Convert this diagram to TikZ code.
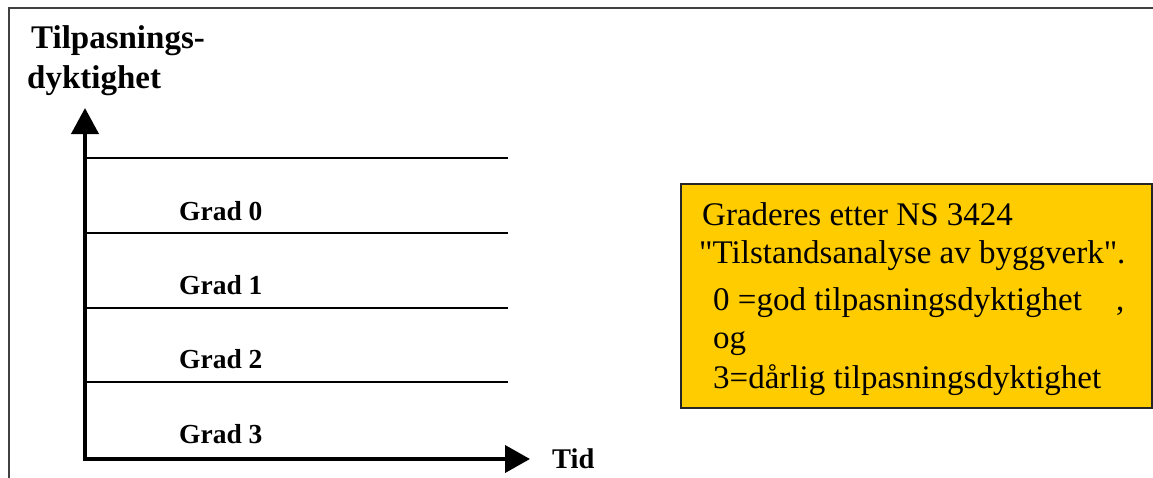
\documentclass[tikz,border=0pt]{standalone}
\usepackage{fontspec}
\setmainfont{Liberation Serif}[Ligatures=TeXOff]
\usetikzlibrary{arrows.meta}
\definecolor{boxyellow}{HTML}{FFCC00}
\definecolor{framegray}{HTML}{404040}
\tikzset{
  gradlabel/.style={anchor=base west,inner sep=0pt,font=\fontsize{27.5}{30}\selectfont\bfseries},
  boxtext/.style={anchor=base west,inner sep=0pt,font=\fontsize{33}{36}\selectfont},
  level/.style={line width=1.8pt},
  axis/.style={line width=4pt,{Triangle[length=26pt,width=27pt]}-{Triangle[length=25pt,width=27pt]}},
  infobox/.style={draw=black!85,line width=1.8pt,fill=boxyellow}
}
\begin{document}
\begin{tikzpicture}[x=1pt,y=-1pt]
\useasboundingbox (0,0) rectangle (1153,477);
% frame
\draw[framegray,line width=1.6pt] (9,478) -- (9,8) -- (1154,8);
% title
\node[anchor=base west,inner sep=0pt,font=\fontsize{33}{40}\selectfont\bfseries] (t1) at (31,48) {Tilpasnings-};
\node[anchor=base west,inner sep=0pt,font=\fontsize{33}{40}\selectfont\bfseries] (t2) at (27,88) {dyktighet};
% axes
\coordinate (ytip) at (85,108);
\coordinate (origin) at (85,459);
\coordinate (xtip) at (530,459);
\draw[axis] (ytip) -- (origin) -- (xtip);
\node[anchor=base west,inner sep=0pt,font=\fontsize{28.5}{32}\selectfont\bfseries] (tid) at (552,468) {Tid};
% level lines
\foreach \i/\y in {0/158,1/233,2/308,3/382}{
  \coordinate (l\i a) at (87,\y);
  \coordinate (l\i b) at (508,\y);
  \draw[level] (l\i a) -- (l\i b);
}
\node[gradlabel] (g0) at (179,220) {Grad 0};
\node[gradlabel] (g1) at (179,294) {Grad 1};
\node[gradlabel] (g2) at (179,368) {Grad 2};
\node[gradlabel] (g3) at (179,443) {Grad 3};
% info box
\node[infobox,minimum width=471pt,minimum height=224pt,anchor=north west,inner sep=0pt] (box) at (680,183) {};
\node[boxtext] (b1) at (702,225) {Graderes etter NS 3424};
\node[boxtext] (b2) at (699,263) {"Tilstandsanalyse av byggverk".};
\node[boxtext] (b3) at (713,310) {0 =god tilpasningsdyktighet};
\node[boxtext] (b3c) at (1116,310) {,};
\node[boxtext] (b4) at (713,348) {og};
\node[boxtext] (b5) at (713,388) {3=dårlig tilpasningsdyktighet};
\end{tikzpicture}
\end{document}
